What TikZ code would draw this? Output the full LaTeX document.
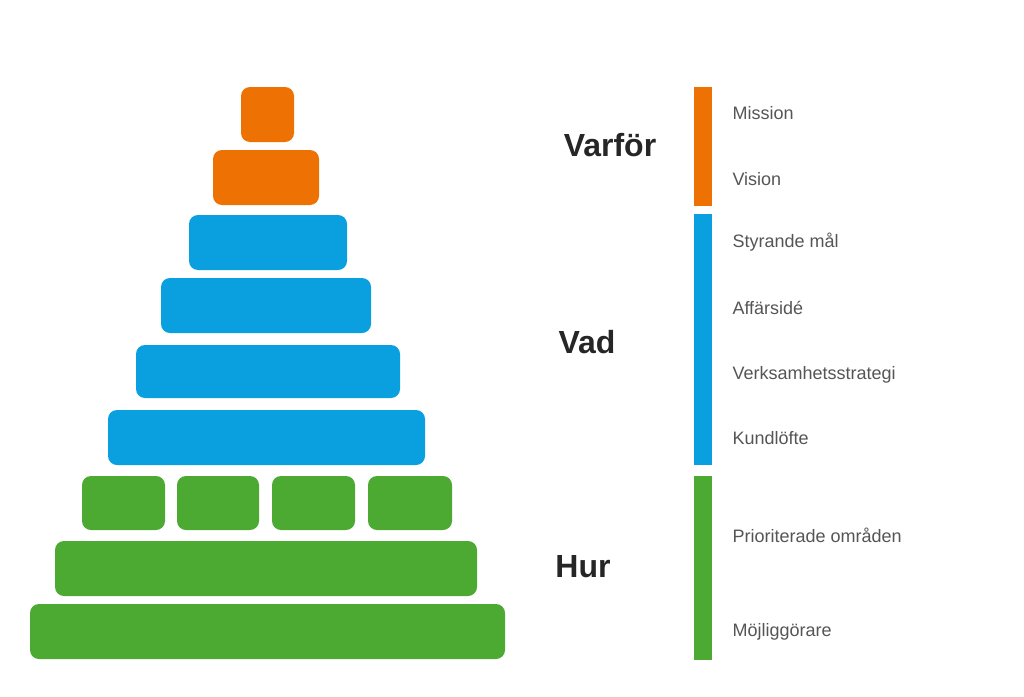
\documentclass[tikz,border=0pt]{standalone}
\usepackage{fontspec}
\setmainfont{Liberation Sans}
\definecolor{cor}{HTML}{EE7203}
\definecolor{cbl}{HTML}{0AA0E0}
\definecolor{cgr}{HTML}{4CAA32}
\definecolor{ctx}{HTML}{555555}
\begin{document}
\begin{tikzpicture}[x=1pt,y=-1pt,
  blk/.style={rounded corners=9pt},
  lab/.style={anchor=west,text=ctx,font=\fontsize{18}{20}\selectfont},
  head/.style={text=black!85,font=\fontsize{32}{36}\selectfont\bfseries}]
\useasboundingbox (0,0) rectangle (1024,696);
\fill[cor,blk] (241,87) rectangle (294,142);
\fill[cor,blk] (213,150) rectangle (319,205);
\fill[cbl,blk] (189,215) rectangle (347,270);
\fill[cbl,blk] (161,278) rectangle (371,333);
\fill[cbl,blk] (136,345) rectangle (400,398);
\fill[cbl,blk] (108,410) rectangle (425,465);
\fill[cgr,blk] (82,476) rectangle (165,530);
\fill[cgr,blk] (177,476) rectangle (259,530);
\fill[cgr,blk] (272,476) rectangle (355,530);
\fill[cgr,blk] (368,476) rectangle (452,530);
\fill[cgr,blk] (55,541) rectangle (477,596);
\fill[cgr,blk] (30,604) rectangle (505,659);
\fill[cor] (694,87) rectangle (712,206);
\fill[cbl] (694,214) rectangle (712,465);
\fill[cgr] (694,476) rectangle (712,660);
\node[head] (h1) at (610,145) {Varför};
\node[head] (h2) at (587,342) {Vad};
\node[head] (h3) at (583,567) {Hur};
\node[lab] (l1) at (729,113) {Mission};
\node[lab] (l2) at (729,179) {Vision};
\node[lab] (l3) at (729,242) {Styrande mål};
\node[lab] (l4) at (729,308) {Affärsidé};
\node[lab] (l5) at (729,375) {Verksamhetsstrategi};
\node[lab] (l6) at (729,438) {Kundlöfte};
\node[lab] (l7) at (729,535) {Prioriterade områden};
\node[lab] (l8) at (729,632) {Möjliggörare};
\end{tikzpicture}
\end{document}
